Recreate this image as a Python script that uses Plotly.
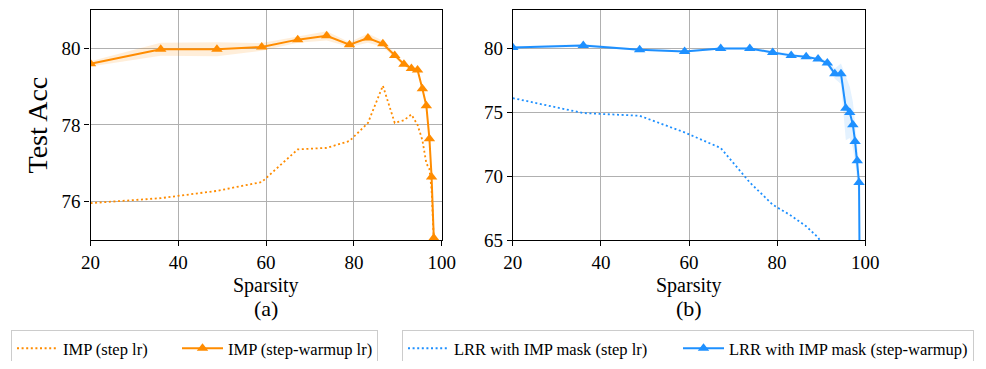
import plotly.graph_objects as go

# ---------------- data ----------------
sparsity = [20.0, 36.0, 48.8, 59.0, 67.2, 73.8, 79.0, 83.2, 86.6, 89.3,
            91.4, 93.1, 94.5, 95.6, 96.5, 97.2, 97.7, 98.2]
imp_step = [75.96, 76.09, 76.28, 76.51, 77.36, 77.40, 77.58, 78.05, 79.02, 78.05,
            78.12, 78.27, 78.00, 77.60, 77.00, 76.85, 76.30, 75.00]
imp_warmup = [79.59, 79.97, 79.97, 80.03, 80.22, 80.32, 80.09, 80.26, 80.11, 79.81,
              79.58, 79.47, 79.43, 78.94, 78.50, 77.64, 76.64, 75.05]
imp_warmup_std = [0.07, 0.17, 0.18, 0.10, 0.08, 0.12, 0.06, 0.12, 0.08, 0.06,
                  0.05, 0.05, 0.05, 0.06, 0.07, 0.08, 0.10, 0.10]

lrr_sparsity = [20.0, 36.0, 48.8, 59.0, 67.2, 73.8, 79.0, 83.2, 86.6, 89.3,
                91.4, 93.1, 94.5, 95.6, 96.5, 97.2, 97.7, 98.2, 98.6, 98.8]
lrr_warmup = [80.05, 80.20, 79.87, 79.74, 79.97, 79.97, 79.66, 79.43, 79.32, 79.14,
              78.83, 78.00, 78.00, 75.30, 74.97, 74.00, 72.70, 71.20, 69.50, 60.00]
lrr_warmup_std = [0.08, 0.12, 0.08, 0.08, 0.08, 0.10, 0.12, 0.15, 0.12, 0.12,
                  0.20, 0.40, 0.80, 2.50, 2.00, 1.80, 1.50, 1.50, 1.50, 1.50]
lrr_step_sparsity = [20.0, 36.0, 48.8, 59.0, 67.2, 73.8, 79.0, 83.2, 86.6, 89.3, 91.4]
lrr_step = [76.09, 74.92, 74.71, 73.41, 72.19, 69.50, 67.76, 66.90, 66.07, 65.20, 64.00]

x_ticks = [20, 40, 60, 80, 100]
left_y_ticks = [76, 78, 80]
right_y_ticks = [65, 70, 75, 80]

ORANGE = "#FF8C00"
BLUE = "#1E90FF"
FONT = "Liberation Serif"
PAGE_W, PAGE_H = 986, 369
BODY = 8  # default page margin of the html body
W, H = PAGE_W - 2 * BODY, PAGE_H - 2 * BODY


def px(x):
    return (x - BODY) / W


def py(y):
    return 1 - (y - BODY) / H


fig = go.Figure()


def band(xs, mean, std, color, xa, ya):
    upper = [m + s for m, s in zip(mean, std)]
    lower = [m - s for m, s in zip(mean, std)]
    fig.add_trace(go.Scatter(x=xs, y=upper, mode="lines", line=dict(width=0),
                             showlegend=False, hoverinfo="skip", xaxis=xa, yaxis=ya))
    fig.add_trace(go.Scatter(x=xs, y=lower, mode="lines", line=dict(width=0),
                             fill="tonexty", fillcolor=color, showlegend=False,
                             hoverinfo="skip", xaxis=xa, yaxis=ya))


# Left panel
fig.add_trace(go.Scatter(x=sparsity, y=imp_step, mode="lines", name="IMP (step lr)",
                         line=dict(color=ORANGE, width=1.8, dash="2px,2.6px"),
                         xaxis="x", yaxis="y", legend="legend", legendwidth=109))
band(sparsity, imp_warmup, imp_warmup_std, "rgba(255,140,0,0.15)", "x", "y")
fig.add_trace(go.Scatter(x=sparsity, y=imp_warmup, mode="lines+markers",
                         name="IMP (step-warmup lr)",
                         line=dict(color=ORANGE, width=2),
                         marker=dict(symbol="triangle-up", size=10, color=ORANGE),
                         xaxis="x", yaxis="y", legend="legend", legendwidth=144))

# Right panel
fig.add_trace(go.Scatter(x=lrr_step_sparsity, y=lrr_step, mode="lines",
                         name="LRR with IMP mask (step lr)",
                         line=dict(color=BLUE, width=1.8, dash="2px,2.6px"),
                         xaxis="x2", yaxis="y2", legend="legend2", legendwidth=219))
band(lrr_sparsity, lrr_warmup, lrr_warmup_std, "rgba(30,144,255,0.12)", "x2", "y2")
fig.add_trace(go.Scatter(x=lrr_sparsity, y=lrr_warmup, mode="lines+markers",
                         name="LRR with IMP mask (step-warmup)",
                         line=dict(color=BLUE, width=2),
                         marker=dict(symbol="triangle-up", size=10, color=BLUE),
                         xaxis="x2", yaxis="y2", legend="legend2", legendwidth=239))

axis_common = dict(showline=True, mirror=True, linecolor="black", linewidth=1.2,
                   ticks="outside", ticklen=5, tickwidth=1, tickcolor="black",
                   showgrid=True, gridcolor="#b0b0b0", gridwidth=1, zeroline=False,
                   automargin=False,
                   tickfont=dict(family=FONT, size=19, color="black"))

legend_common = dict(xanchor="left", yanchor="top", orientation="h",
                     traceorder="normal", bordercolor="#cccccc", borderwidth=1,
                     bgcolor="white", itemwidth=41,
                     font=dict(family=FONT, size=16.5, color="black"))

y_dom = [py(240), py(9.7)]
fig.update_layout(
    width=W, height=H,
    margin=dict(l=0, r=0, t=0, b=0, autoexpand=False),
    paper_bgcolor="white", plot_bgcolor="white",
    font=dict(family=FONT, color="black"),
    xaxis=dict(domain=[px(90.5), px(441.7)], range=[20, 100], tickvals=x_ticks,
               anchor="y", **axis_common),
    yaxis=dict(domain=y_dom, range=[75, 81], tickvals=left_y_ticks, anchor="x",
               **axis_common),
    xaxis2=dict(domain=[px(512.8), px(865.2)], range=[20, 100], tickvals=x_ticks,
                anchor="y2", **axis_common),
    yaxis2=dict(domain=y_dom, range=[65, 83], tickvals=right_y_ticks, anchor="x2",
                **axis_common),
    legend=dict(x=px(11), y=py(330), **legend_common),
    legend2=dict(x=px(402), y=py(330), **legend_common),
    showlegend=True,
)

annots = [
    dict(text="Test Acc", x=px(37.5), y=py(125), textangle=-90, size=28),
    dict(text="Sparsity", x=px(266), y=py(285), size=20),
    dict(text="(a)", x=px(266), y=py(308), size=22),
    dict(text="Sparsity", x=px(689), y=py(285), size=20),
    dict(text="(b)", x=px(689), y=py(308), size=22),
]
for a in annots:
    fig.add_annotation(xref="paper", yref="paper", showarrow=False,
                       xanchor="center", yanchor="middle",
                       text=a["text"], x=a["x"], y=a["y"],
                       textangle=a.get("textangle", 0),
                       font=dict(family=FONT, color="black", size=a["size"]))

fig.write_html("out.html")
